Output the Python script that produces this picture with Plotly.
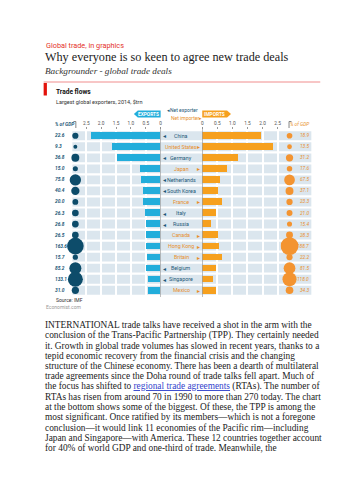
import plotly.graph_objects as go

W, H = 353, 500

# ---------------- data ----------------
countries = ["China", "United States", "Germany", "Japan", "Netherlands", "South Korea",
             "France", "Italy", "Russia", "Canada", "Hong Kong", "Britain", "Belgium",
             "Singapore", "Mexico"]
exports_trn = [2.34, 1.62, 1.45, 0.69, 0.65, 0.57, 0.57, 0.51, 0.49, 0.47, 0.47, 0.46, 0.47, 0.40, 0.40]
imports_trn = [1.96, 2.37, 1.21, 0.83, 0.59, 0.53, 0.67, 0.47, 0.31, 0.53, 0.56, 0.66, 0.46, 0.37, 0.46]
exports_gdp = [22.6, 9.3, 36.8, 15.0, 75.8, 40.4, 20.0, 26.3, 26.8, 26.5, 163.6, 15.7, 85.2, 133.1, 31.0]
imports_gdp = [18.9, 13.5, 31.2, 17.6, 67.5, 37.1, 23.3, 21.0, 15.4, 28.3, 188.7, 22.2, 81.5, 118.0, 34.3]
tick_vals = [0, 0.5, 1.0, 1.5, 2.0, 2.5]
tick_text = ["0", "0.5", "1.0", "1.5", "2.0", "2.5"]

body_lines = [
    "INTERNATIONAL trade talks have received a shot in the arm with the",
    "conclusion of the Trans-Pacific Partnership (TPP). They certainly needed",
    "it. Growth in global trade volumes has slowed in recent years, thanks to a",
    "tepid economic recovery from the financial crisis and the changing",
    "structure of the Chinese economy. There has been a dearth of multilateral",
    "trade agreements since the Doha round of trade talks fell apart. Much of",
    "the focus has shifted to <span style='color:#3344cc'><u>regional trade agreements</u></span> (RTAs). The number of",
    "RTAs has risen from around 70 in 1990 to more than 270 today. The chart",
    "at the bottom shows some of the biggest. Of these, the TPP is among the",
    "most significant. Once ratified by its members\u2014which is not a foregone",
    "conclusion\u2014it would link 11 economies of the Pacific rim\u2014including",
    "Japan and Singapore\u2014with America. These 12 countries together account",
    "for 40% of world GDP and one-third of trade. Meanwhile, the",
]

# ---------------- style ----------------
C_EXP = "#22addb"
C_IMP = "#f6a01e"
C_BUB_L = "#0d4c6a"
C_BUB_R = "#f39431"
C_TRACK = "#dbe6ee"
C_NAME_EXP = "#1d5877"
C_NAME_IMP = "#e88f2c"
SANS = "Roboto"
SERIF = "Liberation Serif"


def px(x):
    return x / W


def py(y):
    return 1 - y / H


n = len(countries)
top_px, bot_px = 130.2, 295.8
PX_PER_TRN_L = 30.0
PX_PER_TRN_R = 30.4

fig = go.Figure()

fig.add_trace(go.Bar(x=exports_trn, y=countries, orientation="h", xaxis="x", yaxis="y",
                     marker=dict(color=C_EXP, line=dict(width=0)), width=0.62,
                     hoverinfo="skip", showlegend=False))
fig.add_trace(go.Bar(x=imports_trn, y=countries, orientation="h", xaxis="x2", yaxis="y",
                     marker=dict(color=C_IMP, line=dict(width=0)), width=0.62,
                     hoverinfo="skip", showlegend=False))

bscale = 1.3
fig.add_trace(go.Scatter(x=[0.5] * n, y=countries, mode="markers", xaxis="x3", yaxis="y",
                         marker=dict(size=[bscale * v ** 0.5 for v in exports_gdp], color=C_BUB_L,
                                     opacity=1, line=dict(width=0)),
                         hoverinfo="skip", showlegend=False))
fig.add_trace(go.Scatter(x=[0.5] * n, y=countries, mode="markers", xaxis="x4", yaxis="y",
                         marker=dict(size=[bscale * v ** 0.5 for v in imports_gdp], color=C_BUB_R,
                                     opacity=1, line=dict(width=0)),
                         hoverinfo="skip", showlegend=False))

shapes = []
annotations = []

# tracks
for i in range(n):
    shapes.append(dict(type="rect", xref="paper", yref="y", x0=px(72), x1=px(313),
                       y0=i - 0.4, y1=i + 0.4, fillcolor=C_TRACK, line=dict(width=0), layer="below"))

# zero lines
for xr in ["x", "x2"]:
    shapes.append(dict(type="line", xref=xr, yref="paper", x0=0, x1=0, y0=py(297), y1=py(127),
                       line=dict(color="#8a8a8a", width=1), layer="above"))

# country names + arrows
for i, c in enumerate(countries):
    net_exp = exports_trn[i] > imports_trn[i]
    col = C_NAME_EXP if net_exp else C_NAME_IMP
    annotations.append(dict(xref="paper", yref="y", x=px(182), y=c, text=c, showarrow=False,
                            font=dict(family=SANS, size=5.3, color=col), xanchor="center", yanchor="middle"))
    if net_exp:
        annotations.append(dict(xref="paper", yref="y", x=px(164.5), y=c, text="\u25C2", showarrow=False,
                                font=dict(family="DejaVu Sans", size=6, color=col), xanchor="center", yanchor="middle"))
    else:
        annotations.append(dict(xref="paper", yref="y", x=px(199.5), y=c, text="\u25B8", showarrow=False,
                                font=dict(family="DejaVu Sans", size=6, color=col), xanchor="center", yanchor="middle"))
    annotations.append(dict(xref="paper", yref="y", x=px(52), y=c, text="<i><b>%.1f</b></i>" % exports_gdp[i],
                            showarrow=False, font=dict(family=SANS, size=4.8, color=C_NAME_EXP),
                            xanchor="left", yanchor="middle"))
    annotations.append(dict(xref="paper", yref="y", x=px(313), y=c, text="<i>%.1f</i>" % imports_gdp[i],
                            showarrow=False, font=dict(family=SANS, size=4.8, color=C_NAME_IMP),
                            xanchor="right", yanchor="middle"))

# header tags
def path(pts):
    s = "M " + " L ".join("%.5f,%.5f" % (px(x), py(y)) for x, y in pts) + " Z"
    return s

shapes.append(dict(type="path", xref="paper", yref="paper",
                   path=path([(134, 114), (138, 110.5), (161, 110.5), (161, 117.5), (138, 117.5)]),
                   fillcolor=C_EXP, line=dict(width=0)))
shapes.append(dict(type="path", xref="paper", yref="paper",
                   path=path([(203, 110.5), (228, 110.5), (232, 114), (228, 117.5), (203, 117.5)]),
                   fillcolor=C_IMP, line=dict(width=0)))

# red rule + red block
shapes.append(dict(type="line", xref="paper", yref="paper", x0=px(43), x1=px(322), y0=py(82), y1=py(82),
                   line=dict(color="#f08d8d", width=1)))
shapes.append(dict(type="rect", xref="paper", yref="paper", x0=px(43), x1=px(46.3), y0=py(95.5), y1=py(83),
                   fillcolor="#e3120b", line=dict(width=0)))

# % of GDP brackets
shapes.append(dict(type="path", xref="paper", yref="paper",
                   path="M %.5f,%.5f L %.5f,%.5f L %.5f,%.5f" % (px(73), py(121.5), px(75.5), py(121.5), px(75.5), py(128)),
                   line=dict(color="#666", width=0.8)))
shapes.append(dict(type="path", xref="paper", yref="paper",
                   path="M %.5f,%.5f L %.5f,%.5f L %.5f,%.5f" % (px(293), py(121.5), px(290.5), py(121.5), px(290.5), py(128)),
                   line=dict(color="#666", width=0.8)))


def txt(x, y, s, size, color, family=SANS, xanchor="left"):
    annotations.append(dict(xref="paper", yref="paper", x=px(x), y=py(y), text=s, showarrow=False,
                            font=dict(family=family, size=size, color=color), xanchor=xanchor, yanchor="middle"))


txt(148.5, 114.2, "<b>EXPORTS</b>", 4.8, "white", xanchor="center")
txt(215.5, 114.2, "<b>IMPORTS</b>", 4.8, "white", xanchor="center")
txt(165.5, 110.3, "\u25C2Net exporter", 5, C_NAME_EXP)
txt(169.5, 118.3, "Net importer\u25B8", 5, C_NAME_IMP)
txt(52, 124.2, "<i><b>% of GDP</b></i>", 4.8, C_NAME_EXP)
txt(313, 124.2, "<i>% of GDP</i>", 4.8, C_NAME_IMP, xanchor="right")

txt(43, 46, "Global trade, in graphics", 7.3, "#e4322b")
txt(42.5, 57.5, "Why everyone is so keen to agree new trade deals", 12.2, "#1a1a1a", family=SERIF)
txt(42.5, 71.2, "<i>Backgrounder - global trade deals</i>", 9.2, "#333", family=SERIF)
txt(53, 92, "<b>Trade flows</b>", 6.6, "#111")
txt(53, 101.5, "Largest global exporters, 2014, $trn", 5.5, "#333")
txt(53, 299.5, "Source: IMF", 5, "#333")
txt(43, 307.3, "Economist.com", 5, "#999")

for k, line in enumerate(body_lines):
    txt(42.8, 325.3 + k * 10.22, line, 9.35, "#222", family=SERIF)

tickfont = dict(family=SANS, size=4.8, color="#555")
fig.update_layout(
    width=W, height=H, margin=dict(l=0, r=0, t=0, b=0),
    paper_bgcolor="white", plot_bgcolor="rgba(0,0,0,0)",
    bargap=0, showlegend=False,
    xaxis=dict(domain=[px(72), px(161)], range=[(161 - 72) / PX_PER_TRN_L, 0], anchor="y", side="top",
               tickvals=tick_vals, ticktext=tick_text, tickfont=tickfont, ticks="outside", ticklen=2.5,
               tickcolor="#999", tickwidth=0.7, showgrid=True, gridcolor="white", gridwidth=1.5,
               zeroline=False, showline=False, fixedrange=True),
    xaxis2=dict(domain=[px(203), px(288)], range=[0, (288 - 203) / PX_PER_TRN_R], anchor="y", side="top",
                tickvals=tick_vals, ticktext=tick_text, tickfont=tickfont, ticks="outside", ticklen=2.5,
                tickcolor="#999", tickwidth=0.7, showgrid=True, gridcolor="white", gridwidth=1.5,
                zeroline=False, showline=False, fixedrange=True),
    xaxis3=dict(domain=[px(66), px(84)], range=[0, 1], anchor="y", visible=False, fixedrange=True),
    xaxis4=dict(domain=[px(282), px(300)], range=[0, 1], anchor="y", visible=False, fixedrange=True),
    yaxis=dict(domain=[py(bot_px), py(top_px)], type="category", categoryorder="array",
               categoryarray=countries, range=[n - 0.5, -0.5], showticklabels=False, showgrid=False,
               zeroline=False, showline=False, ticks="", fixedrange=True),
    shapes=shapes, annotations=annotations,
)

fig.write_html("out.html", config={"displayModeBar": False})
